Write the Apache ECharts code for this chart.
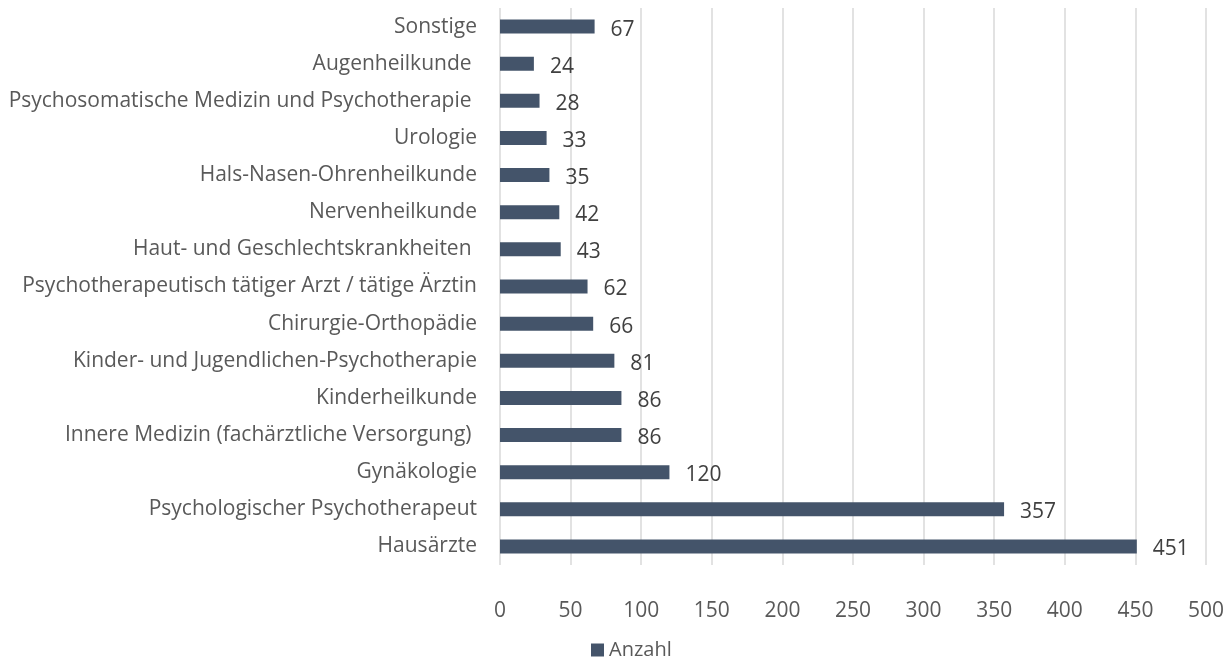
<!DOCTYPE html>
<html>
<head>
<meta charset="utf-8">
<script src="https://cdn.jsdelivr.net/npm/echarts@6/dist/echarts.min.js"></script>
<style>
html, body { margin: 0; padding: 0; background: #fff; }
#chart { width: 1227px; height: 659px; }
</style>
</head>
<body>
<div id="chart"></div>
<script>
// bottom to top, as drawn
var categories = [
    'Hausärzte',
    'Psychologischer Psychotherapeut',
    'Gynäkologie',
    'Innere Medizin (fachärztliche Versorgung) ',
    'Kinderheilkunde',
    'Kinder- und Jugendlichen-Psychotherapie',
    'Chirurgie-Orthopädie',
    'Psychotherapeutisch tätiger Arzt / tätige Ärztin',
    'Haut- und Geschlechtskrankheiten ',
    'Nervenheilkunde',
    'Hals-Nasen-Ohrenheilkunde',
    'Urologie',
    'Psychosomatische Medizin und Psychotherapie ',
    'Augenheilkunde ',
    'Sonstige'
];
var anzahl = [451, 357, 120, 86, 86, 81, 66, 62, 43, 42, 35, 33, 28, 24, 67];
var seriesName = 'Anzahl';

var fontFamily = '"Open Sans", Lato, sans-serif';
var fontSize = 21;

var option;

function buildChart(){
    option = {
        animation: false,
        textStyle: { fontFamily: fontFamily },
        grid: {
            left: 500,
            right: 18,
            top: 8,
            bottom: 94
        },
        legend: {
            top: 635,
            left: 586,
            itemWidth: 13,
            itemHeight: 13,
            itemGap: 5,
            icon: 'rect',
            textStyle: { fontSize: 20, color: '#595959', fontFamily: fontFamily },
            data: [seriesName]
        },
        xAxis: {
            type: 'value',
            min: 0,
            max: 500,
            interval: 50,
            axisLine: { show: false },
            axisTick: { show: false },
            axisLabel: { fontSize: fontSize, color: '#595959', margin: 36, fontFamily: fontFamily },
            splitLine: { show: true, lineStyle: { color: '#d9d9d9', width: 1.5 } }
        },
        yAxis: {
            type: 'category',
            data: categories,
            axisLine: { show: false },
            axisTick: { show: false },
            axisLabel: { fontSize: fontSize, color: '#595959', margin: 23, fontFamily: fontFamily }
        },
        series: [
            {
                name: seriesName,
                type: 'bar',
                data: anzahl,
                barWidth: 14,
                itemStyle: { color: '#44546a' },
                label: {
                    show: true,
                    position: 'right',
                    distance: 16,
                    offset: [0, 3],
                    fontSize: fontSize,
                    color: '#404040',
                    fontFamily: fontFamily
                }
            }
        ]
    };
}

function setChart(){
    var myChart = echarts.init(document.getElementById('chart'));
    myChart.setOption(option);
}

buildChart();
setChart();
</script>
</body>
</html>
